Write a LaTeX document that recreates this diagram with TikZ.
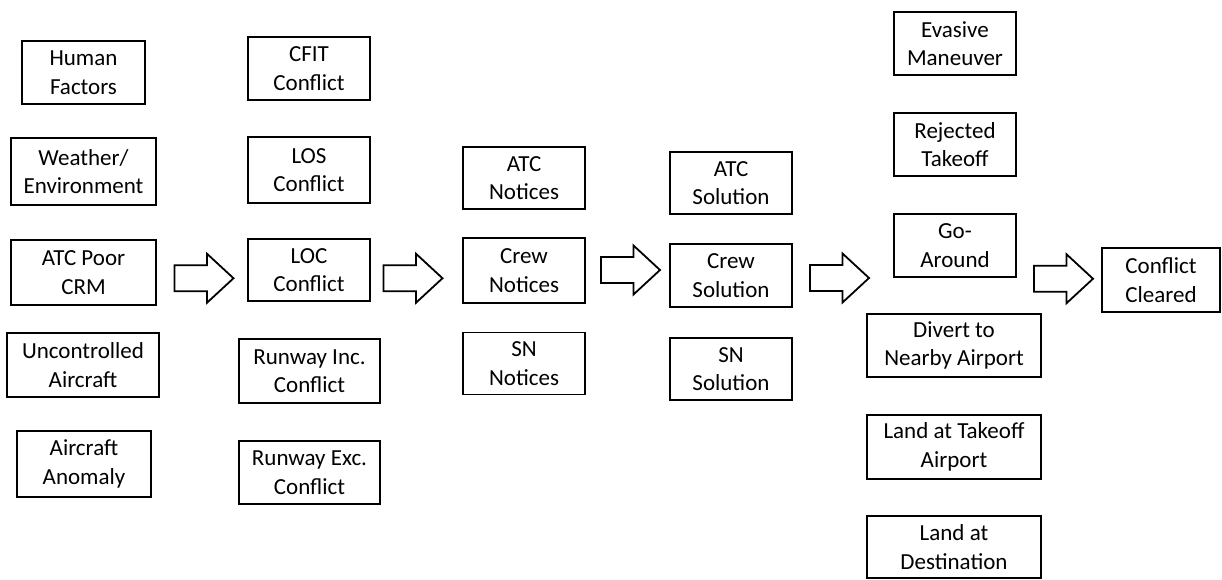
\documentclass[tikz,border=0pt]{standalone}
\usepackage{fontspec}
\setmainfont{Carlito}
\usepackage{xcolor}
\definecolor{lineDark}{HTML}{000000}
\usepackage{tikz}
\usetikzlibrary{positioning,calc}
\tikzset{%
  stageBox/.style={%
    rectangle,
    draw=lineDark,
    line width=1.8pt,
    fill=white,
    inner sep=0pt,
    minimum width=122pt,
    minimum height=63pt,
    align=center,
    font=\fontsize{23}{28.5}\selectfont
  },
  pics/blockArrow/.style={%
    code={%
      \draw[line width=1.8pt, draw=lineDark, line join=miter]
        (-29.5,-13) -- (3,-13) -- (3,-24.5) -- (29.5,0)
        -- (3,24.5) -- (3,13) -- (-29.5,13) -- cycle;
    }
  }
}

\begin{document}
\begin{tikzpicture}[x=1pt,y=-1pt]
  \useasboundingbox (0,0) rectangle (1222,580);

  % causes
  \node[stageBox, minimum width=123pt] (human) at (83.5,72.5) {Human\\Factors};
  \node[stageBox, minimum width=145pt, minimum height=67pt] (weather) at (83.5,171.5) {Weather/\\Environment};
  \node[stageBox, minimum width=145pt, minimum height=65pt] (crm) at (83.5,272.5) {ATC Poor\\CRM};
  \node[stageBox, minimum width=152pt, minimum height=64pt] (uncontrolled) at (83,365) {Uncontrolled\\Aircraft};
  \node[stageBox, minimum width=134pt, minimum height=66pt] (anomaly) at (84,464) {Aircraft\\Anomaly};

  % conflicts
  \node[stageBox] (cfit) at (309,68.5) {CFIT\\Conflict};
  \node[stageBox, minimum height=66pt] (los) at (309,170) {LOS\\Conflict};
  \node[stageBox, minimum height=62pt] (loc) at (309,270) {LOC\\Conflict};
  \node[stageBox, minimum width=141pt, minimum height=64pt] (rwyInc) at (309.5,371) {Runway Inc.\\Conflict};
  \node[stageBox, minimum width=141pt] (rwyExc) at (309.5,472.5) {Runway Exc.\\Conflict};

  % notices
  \node[stageBox, minimum height=62pt] (atcN) at (524,178) {ATC\\Notices};
  \node[stageBox, minimum height=65pt] (crewN) at (524,270.5) {Crew\\Notices};
  \node[stageBox, minimum height=62pt] (snN) at (524,363.5) {SN\\Notices};

  % solutions
  \node[stageBox, minimum height=62pt] (atcS) at (731,183) {ATC\\Solution};
  \node[stageBox] (crewS) at (731,275.5) {Crew\\Solution};
  \node[stageBox, minimum height=62pt] (snS) at (731,369) {SN\\Solution};

  % outcomes
  \node[stageBox] (evasive) at (955,43.5) {Evasive\\Maneuver};
  \node[stageBox] (rejected) at (955,144.5) {Rejected\\Takeoff};
  \node[stageBox] (goAround) at (955,245.5) {Go-\\Around};
  \node[stageBox, minimum width=174pt] (divert) at (954,345.5) {Divert to\\Nearby Airport};
  \node[stageBox, minimum width=174pt, minimum height=64pt] (landTo) at (954,447) {Land at Takeoff\\Airport};
  \node[stageBox, minimum width=174pt, minimum height=62pt] (landDest) at (954,547) {Land at\\Destination};

  \node[stageBox, minimum width=118pt, minimum height=64pt] (cleared) at (1161,280) {Conflict\\Cleared};

  % block arrows between the stages
  \pic at ($(crm.east)!.5!(loc.west)+(2,7)$) {blockArrow};
  \pic at ($(loc.east)!.5!(crewN.west)+(-3.5,8)$) {blockArrow};
  \pic at ($(crewN.east)!.5!(crewS.west)+(3,-3)$) {blockArrow};
  \pic at ($(crewS.east)!.5!(goAround.west)+(-3.5,17.5)$) {blockArrow};
  \pic at ($(goAround.east)!.5!(cleared.west)+(4.5,16)$) {blockArrow};
\end{tikzpicture}
\end{document}
